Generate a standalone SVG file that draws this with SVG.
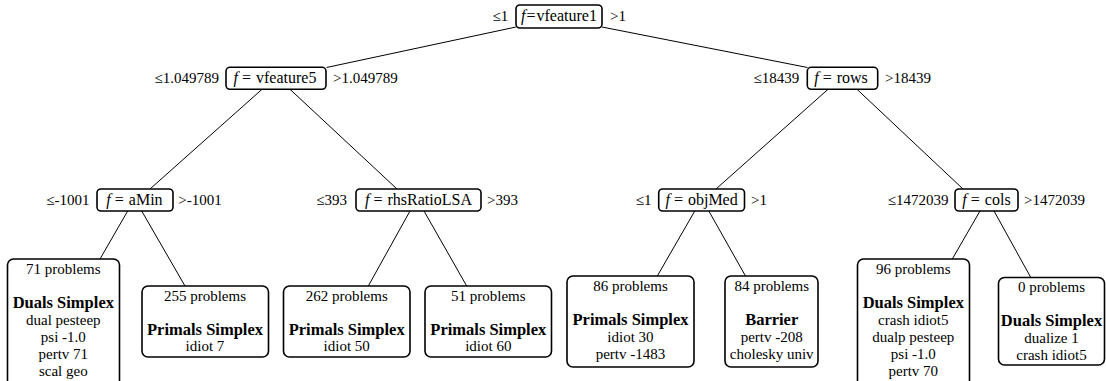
<svg xmlns="http://www.w3.org/2000/svg" width="1106" height="381" viewBox="0 0 1106 381" font-family="'Liberation Serif', 'DejaVu Serif', serif">
<style>
  .box { fill: #fff; stroke: #000; stroke-width: 1.6; }
  .edge { stroke: #000; stroke-width: 1; fill: none; }
  text { font-family: 'Liberation Serif', 'DejaVu Serif', serif; font-size: 15px; fill: #000; }
  .m { text-anchor: middle; }
  .e { text-anchor: end; }
  .s { text-anchor: start; }
  .nl { font-size: 16px; }
  .b { font-weight: bold; font-size: 16.5px; }
  .i { font-style: italic; }
</style>
<g id="connectors">
  <line class="edge" x1="516" y1="27" x2="326.5" y2="67.5"/>
  <line class="edge" x1="602" y1="27" x2="807.5" y2="67.5"/>
  <line class="edge" x1="262" y1="89.3" x2="150" y2="189"/>
  <line class="edge" x1="290" y1="89.3" x2="397" y2="189"/>
  <line class="edge" x1="828" y1="89.3" x2="716" y2="189"/>
  <line class="edge" x1="857" y1="89.3" x2="963" y2="189"/>
  <line class="edge" x1="127.7" y1="211" x2="100" y2="259"/>
  <line class="edge" x1="141.7" y1="211" x2="185" y2="286"/>
  <line class="edge" x1="410" y1="211" x2="368.3" y2="286"/>
  <line class="edge" x1="424" y1="211" x2="466.7" y2="286"/>
  <line class="edge" x1="694.8" y1="211" x2="657.3" y2="276"/>
  <line class="edge" x1="708.8" y1="211" x2="745.5" y2="276"/>
  <line class="edge" x1="980" y1="211" x2="952" y2="259.5"/>
  <line class="edge" x1="994" y1="211" x2="1030.8" y2="277.5"/>
</g>
<g id="root">
  <rect class="box" x="516" y="5" width="86" height="23" rx="4"/>
  <text class="nl m" x="559" y="21"><tspan class="i">f</tspan><tspan dx="1">=</tspan><tspan dx="1">vfeature1</tspan></text>
  <text class="e" x="508.3" y="21">≤1</text>
  <text class="s" x="610" y="21">&gt;1</text>
</g>
<g id="n_vfeature5">
  <rect class="box" x="226" y="67.3" width="100" height="22" rx="4"/>
  <text class="nl m" x="275" y="83"><tspan class="i">f</tspan><tspan dx="4">=</tspan><tspan dx="5">vfeature5</tspan></text>
  <text class="e" x="219" y="83">≤1.049789</text>
  <text class="s" x="333" y="83">&gt;1.049789</text>
</g>
<g id="n_rows">
  <rect class="box" x="807.3" y="67.3" width="70.4" height="22" rx="4"/>
  <text class="nl m" x="841" y="83"><tspan class="i">f</tspan><tspan dx="4">=</tspan><tspan dx="5">rows</tspan></text>
  <text class="e" x="799.3" y="83">≤18439</text>
  <text class="s" x="885" y="83">&gt;18439</text>
</g>
<g id="n_aMin">
  <rect class="box" x="97" y="189" width="76" height="22" rx="4"/>
  <text class="nl m" x="134.5" y="204.5"><tspan class="i">f</tspan><tspan dx="4">=</tspan><tspan dx="5">aMin</tspan></text>
  <text class="e" x="89.5" y="204.5">≤-1001</text>
  <text class="s" x="178.3" y="204.5">&gt;-1001</text>
</g>
<g id="n_rhsRatioLSA">
  <rect class="box" x="356" y="189" width="125" height="22" rx="4"/>
  <text class="nl m" x="418.5" y="204.5"><tspan class="i">f</tspan><tspan dx="4">=</tspan><tspan dx="5">rhsRatioLSA</tspan></text>
  <text class="e" x="347" y="204.5">≤393</text>
  <text class="s" x="487" y="204.5">&gt;393</text>
</g>
<g id="n_objMed">
  <rect class="box" x="658.7" y="189" width="85.8" height="22" rx="4"/>
  <text class="nl m" x="701.6" y="204.5"><tspan class="i">f</tspan><tspan dx="4">=</tspan><tspan dx="5">objMed</tspan></text>
  <text class="e" x="651.5" y="204.5">≤1</text>
  <text class="s" x="751" y="204.5">&gt;1</text>
</g>
<g id="n_cols">
  <rect class="box" x="955" y="189" width="63" height="22" rx="4"/>
  <text class="nl m" x="986.5" y="204.5"><tspan class="i">f</tspan><tspan dx="4">=</tspan><tspan dx="5">cols</tspan></text>
  <text class="e" x="948.5" y="204.5">≤1472039</text>
  <text class="s" x="1024" y="204.5">&gt;1472039</text>
</g>
<g id="leaf71">
  <rect class="box" x="7.5" y="259" width="112" height="135" rx="6"/>
  <text class="m" x="63.3" y="274">71 problems</text>
  <text class="m b" x="63.3" y="308">Duals Simplex</text>
  <text class="m" x="63.3" y="325">dual pesteep</text>
  <text class="m" x="63.3" y="342">psi -1.0</text>
  <text class="m" x="63.3" y="359">pertv 71</text>
  <text class="m" x="63.3" y="376">scal geo</text>
</g>
<g id="leaf255">
  <rect class="box" x="142" y="286" width="126.5" height="71" rx="6"/>
  <text class="m" x="205" y="300.5">255 problems</text>
  <text class="m b" x="205" y="334.5">Primals Simplex</text>
  <text class="m" x="205" y="351">idiot 7</text>
</g>
<g id="leaf262">
  <rect class="box" x="283.5" y="286" width="126.5" height="71" rx="6"/>
  <text class="m" x="346.7" y="300.5">262 problems</text>
  <text class="m b" x="346.7" y="334.5">Primals Simplex</text>
  <text class="m" x="346.7" y="351">idiot 50</text>
</g>
<g id="leaf51">
  <rect class="box" x="425" y="286" width="126.5" height="71" rx="6"/>
  <text class="m" x="488.3" y="300.5">51 problems</text>
  <text class="m b" x="488.3" y="334.5">Primals Simplex</text>
  <text class="m" x="488.3" y="351">idiot 60</text>
</g>
<g id="leaf86">
  <rect class="box" x="567" y="276" width="127" height="91" rx="6"/>
  <text class="m" x="630.5" y="291">86 problems</text>
  <text class="m b" x="630.5" y="325">Primals Simplex</text>
  <text class="m" x="630.5" y="342">idiot 30</text>
  <text class="m" x="630.5" y="359">pertv -1483</text>
</g>
<g id="leaf84">
  <rect class="box" x="725" y="276" width="93" height="91" rx="6"/>
  <text class="m" x="771.7" y="291">84 problems</text>
  <text class="m b" x="771.7" y="325">Barrier</text>
  <text class="m" x="771.7" y="342">pertv -208</text>
  <text class="m" x="771.7" y="359">cholesky univ</text>
</g>
<g id="leaf96">
  <rect class="box" x="857.5" y="259" width="112" height="135" rx="6"/>
  <text class="m" x="913.3" y="274">96 problems</text>
  <text class="m b" x="913.3" y="308">Duals Simplex</text>
  <text class="m" x="913.3" y="325">crash idiot5</text>
  <text class="m" x="913.3" y="342">dualp pesteep</text>
  <text class="m" x="913.3" y="359">psi -1.0</text>
  <text class="m" x="913.3" y="376">pertv 70</text>
</g>
<g id="leaf0">
  <rect class="box" x="998.5" y="277.5" width="106" height="87.5" rx="6"/>
  <text class="m" x="1051.5" y="292">0 problems</text>
  <text class="m b" x="1051.5" y="326">Duals Simplex</text>
  <text class="m" x="1051.5" y="343">dualize 1</text>
  <text class="m" x="1051.5" y="360">crash idiot5</text>
</g>
</svg>
